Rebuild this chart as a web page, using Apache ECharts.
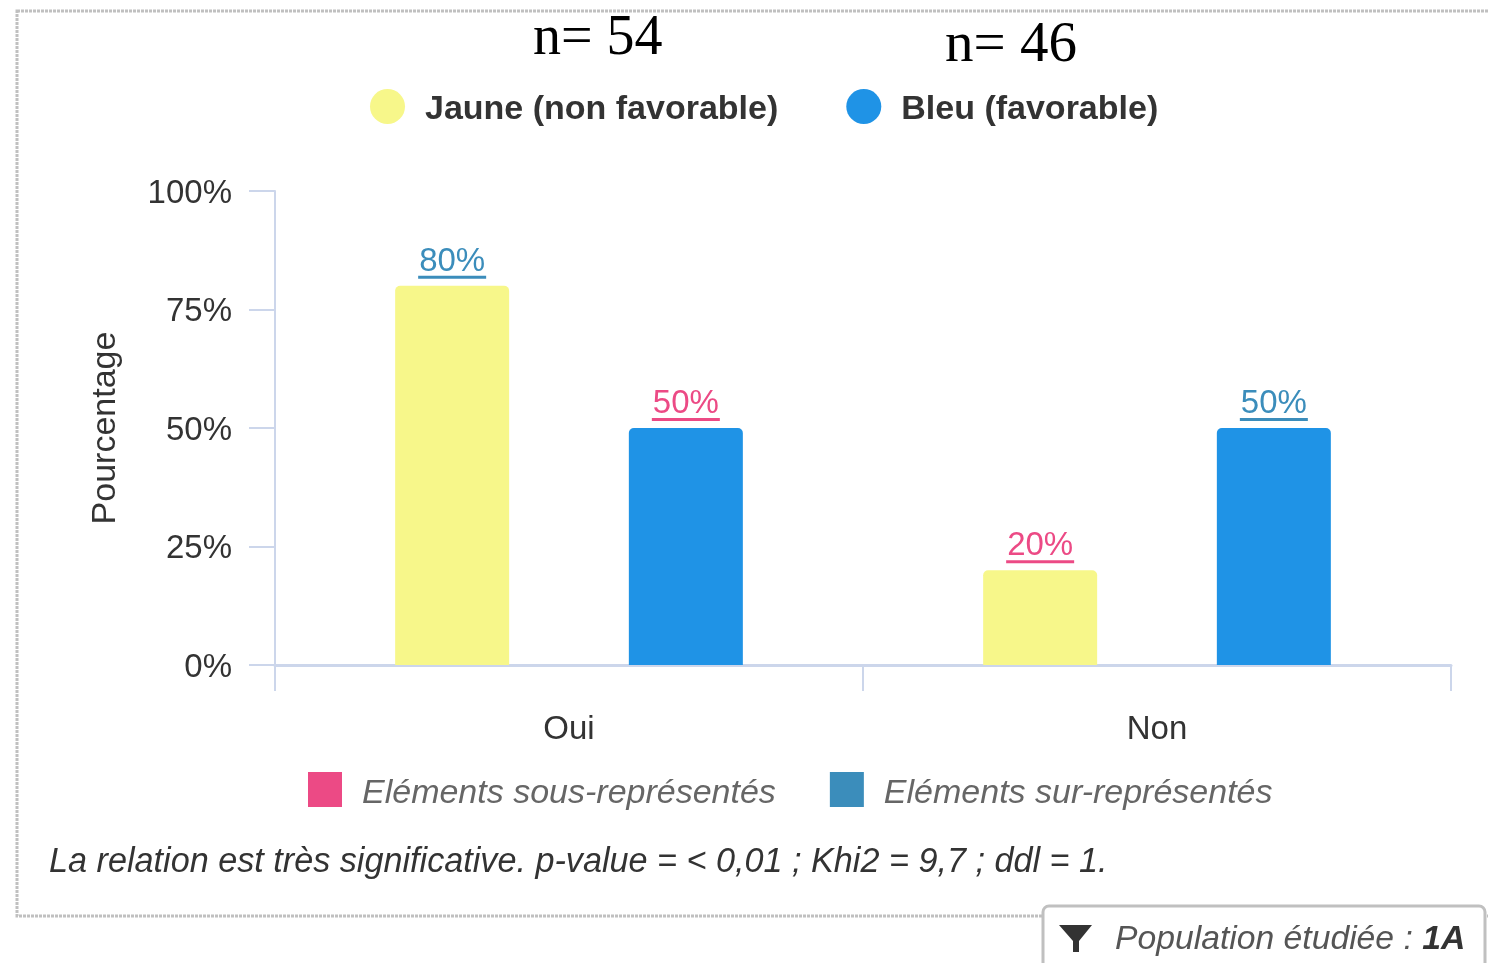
<!DOCTYPE html>
<html><head><meta charset="utf-8">
<style>html,body{margin:0;padding:0;background:#fff;overflow:hidden}#c{width:1488px;height:963px}</style>
<script src="https://cdn.jsdelivr.net/npm/echarts@6/dist/echarts.min.js"></script>
</head><body><div id="c"></div>
<script>
const categories = ['Oui','Non'];
const jaune = [80,20];
const bleu = [50,50];
const jauneMarks = ['sur','sous'];
const bleuMarks = ['sous','sur'];
const yTicks = {min:0,max:100,interval:25};
const nLabels = ['n= 54','n= 46'];
const noteText = 'La relation est très significative. p-value = < 0,01 ; Khi2 = 9,7 ; ddl = 1.';
const popText = 'Population étudiée : ';
const popValue = '1A';
const SANS = '"Liberation Sans", Arial, sans-serif';
const SERIF = '"Liberation Serif", serif';
const markColor = {sous:'#ec4a85', sur:'#3b8dbb'};
const axisColor = '#ccd6eb';
function points(vals, marks){
  return vals.map((v,i)=>({value:v, label:{
    formatter:`{v|${v}%}\n{u|}`,
    rich:{
      v:{fontFamily:SANS,fontSize:33,color:markColor[marks[i]],lineHeight:28,align:'center'},
      u:{backgroundColor:markColor[marks[i]],height:3,width:68,align:'center'}
    }}}));
}
function barSeries(name,color,vals,marks){
  return {name,type:'bar',barWidth:114,barGap:'105%',data:points(vals,marks),
    itemStyle:{color,borderRadius:[5,5,0,0]},
    label:{show:true,position:'top',distance:7}};
}
const chart = echarts.init(document.getElementById('c'),null,{renderer:'canvas'});
chart.setOption({
  animation:false,
  backgroundColor:'#fff',
  grid:{left:275,right:37,top:191,bottom:298},
  legend:[
    {left:365,top:84,icon:'circle',itemWidth:35,itemHeight:35,itemGap:68,selectedMode:false,
     data:['Jaune (non favorable)','Bleu (favorable)'],
     formatter:'{t|{name}}',
     textStyle:{padding:[0,0,0,15],
       rich:{t:{fontFamily:SANS,fontSize:34,color:'#333',fontWeight:'bold',padding:[6,0,0,0]}}}},
    {left:303,top:767,icon:'rect',itemWidth:34,itemHeight:35,itemGap:54,selectedMode:false,
     data:['Eléments sous-représentés','Eléments sur-représentés'],
     formatter:'{t|{name}}',
     textStyle:{padding:[0,0,0,15],
       rich:{t:{fontFamily:SANS,fontSize:34,fontStyle:'italic',color:'#666',padding:[8,0,0,0]}}}}
  ],
  xAxis:{type:'category',data:categories,
    axisLine:{lineStyle:{color:axisColor,width:3}},
    axisTick:{show:true,length:26,alignWithLabel:false,lineStyle:{color:axisColor,width:2}},
    axisLabel:{fontFamily:SANS,fontSize:33,color:'#333',margin:48}},
  yAxis:{type:'value',...yTicks,
    name:'Pourcentage',nameLocation:'middle',nameGap:152,nameRotate:90,
    nameTextStyle:{fontFamily:SANS,fontSize:34,color:'#333'},
    splitLine:{show:false},
    axisLine:{show:true,lineStyle:{color:axisColor,width:2}},
    axisTick:{show:true,length:26,lineStyle:{color:axisColor,width:2}},
    axisLabel:{fontFamily:SANS,fontSize:33,color:'#333',margin:43,verticalAlign:'top',lineHeight:5,formatter:'{value}%'}},
  series:[
    barSeries('Jaune (non favorable)','#f7f78a',jaune,jauneMarks),
    barSeries('Bleu (favorable)','#1f93e6',bleu,bleuMarks),
    {name:'Eléments sous-représentés',type:'scatter',data:[],itemStyle:{color:markColor.sous,opacity:1}},
    {name:'Eléments sur-représentés',type:'scatter',data:[],itemStyle:{color:markColor.sur,opacity:1}}
  ],
  graphic:[
    {type:'rect',z:-1,shape:{x:17,y:11,width:1520,height:905},
     style:{fill:'#fff',stroke:'#c0c0c0',lineWidth:3,lineDash:[3,1]},silent:true},
    {type:'text',left:533,top:11,style:{text:nLabels[0],font:'56px '+SERIF,fill:'#000'}},
    {type:'text',left:945,top:18,style:{text:nLabels[1],font:'57px '+SERIF,fill:'#000'}},
    {type:'text',left:49,top:845,style:{text:noteText,font:'italic 34.2px '+SANS,fill:'#333'}},
    {type:'rect',z:5,shape:{x:1043,y:906,width:442,height:80,r:6},
     style:{fill:'#fff',stroke:'#c0c0c0',lineWidth:3}},
    {type:'polygon',z:6,shape:{points:[[1059,925],[1092,925],[1079,941],[1079,952],[1073,952],[1073,941]]},
     style:{fill:'#333'}},
    {type:'text',z:6,left:1115,top:923,style:{
      text:'{a|'+popText+'}{b|'+popValue+'}',
      rich:{a:{font:'italic 33.7px '+SANS,fill:'#555'},
            b:{font:'italic bold 33.7px '+SANS,fill:'#333'}}}}
  ]
});
</script></body></html>
